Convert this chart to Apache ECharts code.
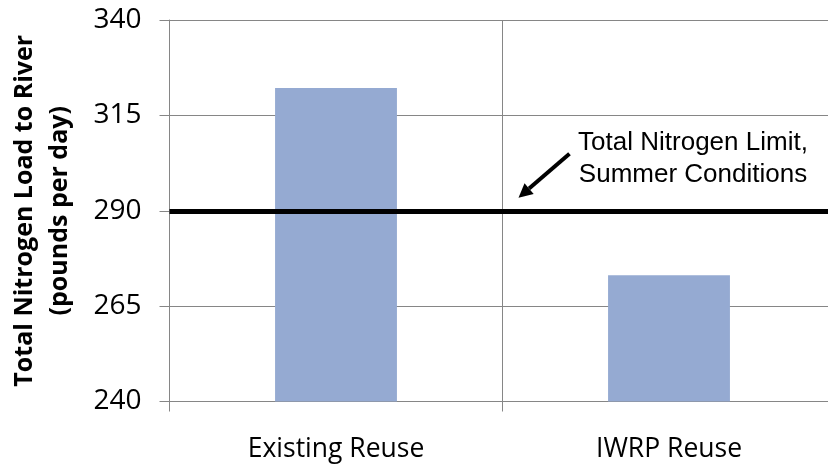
<!DOCTYPE html>
<html>
<head>
<meta charset="utf-8">
<script src="https://cdn.jsdelivr.net/npm/echarts@6/dist/echarts.min.js"></script>
<style>
html,body{margin:0;padding:0;background:#fff;overflow:hidden;}
#chart{width:836px;height:465px;}
</style>
</head>
<body>
<div id="chart"></div>
<script>
var categories = ['Existing Reuse', 'IWRP Reuse'];
var loads = [322.2, 273.1];
var limitValue = 290;
var yTicks = [240, 265, 290, 315, 340];
var yAxisName = 'Total Nitrogen Load to River\n(pounds per day)';
var annotationText = 'Total Nitrogen Limit,\nSummer Conditions';

var chart = echarts.init(document.getElementById('chart'), null, {renderer: 'canvas'});
var gridColor = '#868686';
var option = {
  animation: false,
  backgroundColor: '#ffffff',
  grid: {left: 169.5, top: 20, right: 0.5, bottom: 63.5, containLabel: false, outerBoundsMode: 'none'},
  xAxis: {
    type: 'category',
    data: categories,
    boundaryGap: true,
    axisLine: {show: true, lineStyle: {color: gridColor, width: 1}},
    axisTick: {show: true, length: 10, lineStyle: {color: gridColor}},
    splitLine: {show: true, lineStyle: {color: gridColor, width: 1}},
    axisLabel: {color: '#000', fontFamily: '"Open Sans"', fontSize: 26.5, margin: 34}
  },
  yAxis: {
    type: 'value',
    min: yTicks[0],
    max: yTicks[yTicks.length - 1],
    interval: yTicks[1] - yTicks[0],
    name: yAxisName,
    nameLocation: 'middle',
    nameGap: 92,
    nameTextStyle: {color: '#000', fontFamily: '"Open Sans"', fontWeight: 'bold', fontSize: 25, lineHeight: 35, align: 'center'},
    axisLine: {show: true, lineStyle: {color: gridColor, width: 1}},
    axisTick: {show: true, length: 10, lineStyle: {color: gridColor}},
    splitLine: {show: true, lineStyle: {color: gridColor, width: 1}},
    axisLabel: {color: '#000', fontFamily: '"Open Sans"', fontSize: 28, margin: 28}
  },
  series: [{
    type: 'bar',
    data: loads,
    barWidth: '36.6%',
    itemStyle: {color: '#95AAD2'},
    markLine: {
      silent: true,
      symbol: ['none', 'none'],
      label: {show: false},
      lineStyle: {color: '#000', width: 5, type: 'solid'},
      data: [{yAxis: limitValue}]
    }
  }]
};
chart.setOption(option);

// annotation placed relative to the limit line and category boundary
var yLimit = chart.convertToPixel({yAxisIndex: 0}, limitValue);
var xMid = chart.convertToPixel({xAxisIndex: 0}, categories[1]);
var catW = chart.convertToPixel({xAxisIndex: 0}, categories[1]) - chart.convertToPixel({xAxisIndex: 0}, categories[0]);
var xBoundary = xMid - catW / 2;
var tipX = xBoundary + 16, tipY = yLimit - 13;
var tailX = xBoundary + 67, tailY = yLimit - 57;
var ang = Math.atan2(tipY - tailY, tipX - tailX);
var hl = 14, hw = 7;
var bx = tipX - hl * Math.cos(ang), by = tipY - hl * Math.sin(ang);
var px = -Math.sin(ang), py = Math.cos(ang);
chart.setOption({
  graphic: [
    {type: 'line', shape: {x1: tailX, y1: tailY, x2: bx, y2: by}, style: {stroke: '#000', lineWidth: 4}},
    {type: 'polygon', shape: {points: [[tipX, tipY], [bx + px * hw, by + py * hw], [bx - px * hw, by - py * hw]]}, style: {fill: '#000'}},
    {type: 'text', x: xMid + 24, y: yLimit - 84, style: {text: annotationText, font: '26px "Liberation Sans", Arial, sans-serif', fill: '#000', textAlign: 'center', textVerticalAlign: 'top', lineHeight: 32}}
  ]
});
</script>
</body>
</html>
